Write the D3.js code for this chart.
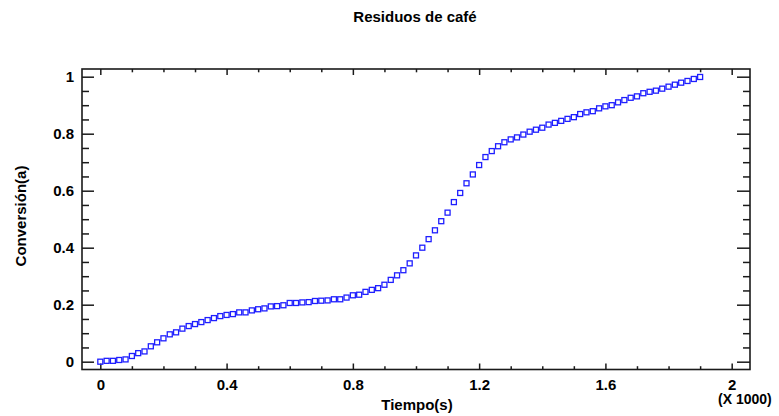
<!DOCTYPE html>
<html>
<head>
<meta charset="utf-8">
<script src="https://cdn.jsdelivr.net/npm/d3@7"></script>
<style>
  body { margin: 0; background: #fff; }
  svg { display: block; font-family: "Liberation Sans", Arial, sans-serif; }
  .axis text { font-size: 15px; font-weight: bold; fill: #000; }
  .axis line { stroke: #1a1a1a; stroke-width: 1.5; }
  .axis path { display: none; }
</style>
</head>
<body>
<svg id="chart" width="779" height="416"></svg>
<script>
//----------DATA----------

var title = 'Residuos de café';
var xTitle = 'Tiempo(s)';
var yTitle = 'Conversión(a)';

// time in seconds
var tiempo = [
    0, 20, 40, 60, 80, 100, 120, 140, 160, 180,
    200, 220, 240, 260, 280, 300, 320, 340, 360, 380,
    400, 420, 440, 460, 480, 500, 520, 540, 560, 580,
    600, 620, 640, 660, 680, 700, 720, 740, 760, 780,
    800, 820, 840, 860, 880, 900, 920, 940, 960, 980,
    1000, 1020, 1040, 1060, 1080, 1100, 1120, 1140, 1160, 1180,
    1200, 1220, 1240, 1260, 1280, 1300, 1320, 1340, 1360, 1380,
    1400, 1420, 1440, 1460, 1480, 1500, 1520, 1540, 1560, 1580,
    1600, 1620, 1640, 1660, 1680, 1700, 1720, 1740, 1760, 1780,
    1800, 1820, 1840, 1860, 1880, 1900
];

var conversion = [
    0.000, 0.003, 0.003, 0.006, 0.008, 0.020, 0.030, 0.036, 0.054, 0.068,
    0.082, 0.096, 0.103, 0.116, 0.125, 0.132, 0.139, 0.146, 0.153, 0.160,
    0.164, 0.167, 0.173, 0.173, 0.180, 0.184, 0.187, 0.194, 0.195, 0.198,
    0.206, 0.206, 0.208, 0.209, 0.213, 0.214, 0.215, 0.219, 0.219, 0.225,
    0.233, 0.235, 0.245, 0.252, 0.258, 0.270, 0.287, 0.303, 0.321, 0.345,
    0.373, 0.400, 0.430, 0.461, 0.493, 0.523, 0.560, 0.592, 0.626, 0.657,
    0.690, 0.718, 0.739, 0.756, 0.770, 0.780, 0.787, 0.797, 0.807, 0.814,
    0.821, 0.832, 0.838, 0.845, 0.852, 0.858, 0.869, 0.875, 0.879, 0.889,
    0.896, 0.900, 0.910, 0.918, 0.926, 0.931, 0.942, 0.947, 0.951, 0.958,
    0.965, 0.972, 0.979, 0.985, 0.992, 0.999
];

var xMajor = [0, 400, 800, 1200, 1600, 2000];
var xMinor = [100, 200, 300, 500, 600, 700, 900, 1000, 1100, 1300, 1400, 1500, 1700, 1800, 1900];
var yMajor = [0, 0.2, 0.4, 0.6, 0.8, 1];
var yMinor = [0.05, 0.1, 0.15, 0.25, 0.3, 0.35, 0.45, 0.5, 0.55, 0.65, 0.7, 0.75, 0.85, 0.9, 0.95];

//----------LAYOUT----------

var svg = d3.select('#chart');
var plot = {left: 82, right: 750, top: 69, bottom: 369.5};

var x = d3.scaleLinear().domain([-58, 2058]).range([plot.left, plot.right]);
var y = d3.scaleLinear().domain([-0.0274, 1.027]).range([plot.bottom, plot.top]);

//----------AXES----------

function addAxis(axis, tx, ty) {
    return svg.append('g')
        .attr('class', 'axis')
        .attr('transform', 'translate(' + tx + ',' + ty + ')')
        .call(axis);
}

// bottom
addAxis(d3.axisBottom(x).tickValues(xMajor).tickSize(-6).tickPadding(10)
    .tickFormat(function(d) {return d3.format('~g')(d / 1000);}), 0, plot.bottom);
addAxis(d3.axisBottom(x).tickValues(xMinor).tickSize(-3.3).tickFormat(''), 0, plot.bottom);
// top
addAxis(d3.axisTop(x).tickValues(xMajor).tickSize(-6).tickFormat(''), 0, plot.top);
addAxis(d3.axisTop(x).tickValues(xMinor).tickSize(-3.3).tickFormat(''), 0, plot.top);
// left
addAxis(d3.axisLeft(y).tickValues(yMajor).tickSize(-12).tickPadding(8)
    .tickFormat(function(d) {return d3.format('~g')(d);}), plot.left, 0);
addAxis(d3.axisLeft(y).tickValues(yMinor).tickSize(-7).tickFormat(''), plot.left, 0);
// right
addAxis(d3.axisRight(y).tickValues(yMajor).tickSize(-13).tickFormat(''), plot.right, 0);
addAxis(d3.axisRight(y).tickValues(yMinor).tickSize(-7).tickFormat(''), plot.right, 0);

// frame
svg.append('rect')
    .attr('x', plot.left)
    .attr('y', plot.top)
    .attr('width', plot.right - plot.left)
    .attr('height', plot.bottom - plot.top)
    .attr('fill', 'none')
    .attr('stroke', '#1a1a1a')
    .attr('stroke-width', 1.6);

//----------POINTS----------

var pts = d3.range(tiempo.length).map(function(i) {return {t: tiempo[i], c: conversion[i]};});

svg.append('g')
    .selectAll('rect')
    .data(pts)
    .enter()
    .append('rect')
    .attr('x', function(d) {return x(d.t) - 2.5;})
    .attr('y', function(d) {return y(d.c) - 2.5;})
    .attr('width', 5)
    .attr('height', 5)
    .attr('fill', 'none')
    .attr('stroke', '#1f1fff')
    .attr('stroke-width', 1.3);

//----------TEXT----------

svg.append('text')
    .attr('x', 415)
    .attr('y', 22)
    .attr('text-anchor', 'middle')
    .style('font-size', '15px')
    .style('font-weight', 'bold')
    .text(title);

svg.append('text')
    .attr('x', 417)
    .attr('y', 410)
    .attr('text-anchor', 'middle')
    .style('font-size', '15px')
    .style('font-weight', 'bold')
    .text(xTitle);

// scale factor note under the last x tick
svg.append('text')
    .attr('x', 718)
    .attr('y', 404)
    .style('font-size', '14px')
    .style('font-weight', 'bold')
    .text('(X 1000)');

svg.append('text')
    .attr('transform', 'translate(26,216) rotate(-90)')
    .attr('text-anchor', 'middle')
    .style('font-size', '15px')
    .style('font-weight', 'bold')
    .text(yTitle);
</script>
</body>
</html>
